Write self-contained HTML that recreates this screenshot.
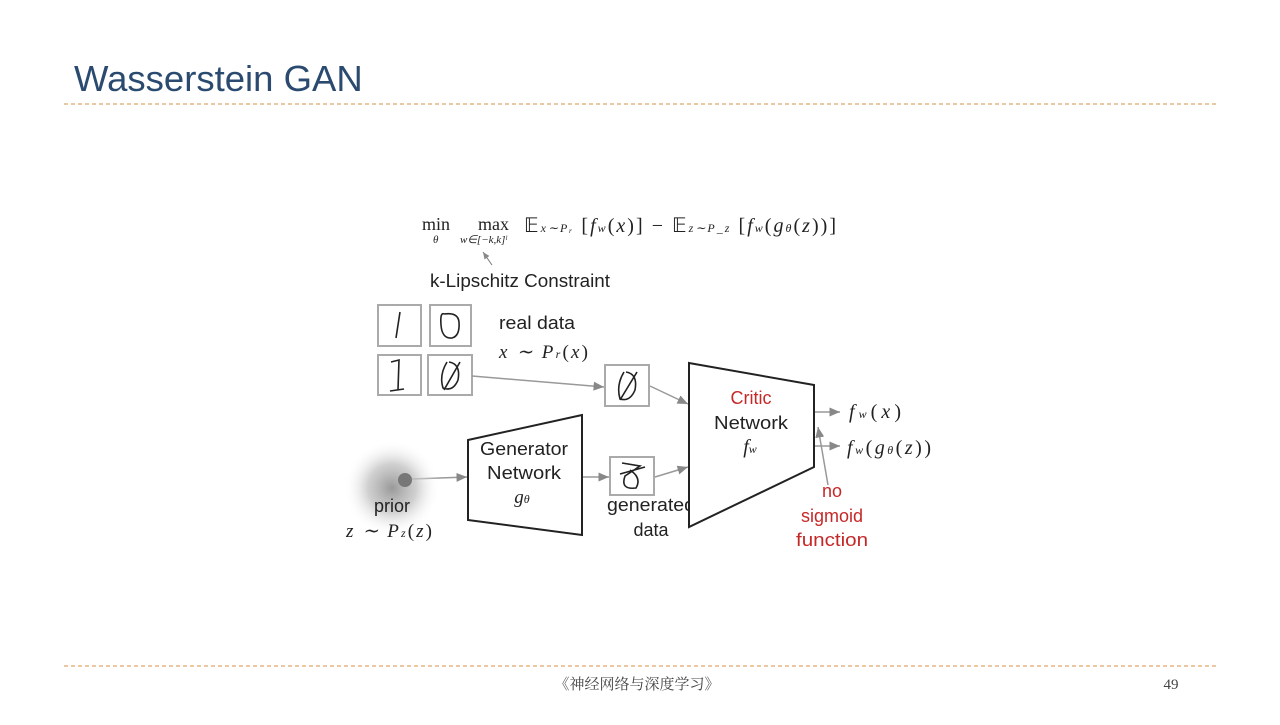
<!DOCTYPE html>
<html><head><meta charset="utf-8"><style>
body{margin:0;width:1280px;height:720px;background:#fff;overflow:hidden;font-family:"Liberation Sans",sans-serif}
</style></head><body>
<svg width="1280" height="720" xmlns="http://www.w3.org/2000/svg">
<defs>
<radialGradient id="g"><stop offset="0" stop-color="#999"/><stop offset="0.5" stop-color="#c4c4c4" stop-opacity="0.8"/><stop offset="1" stop-color="#fff" stop-opacity="0"/></radialGradient>
<marker id="a" markerWidth="8" markerHeight="8" refX="7" refY="4" orient="auto"><path d="M0,1 L7,4 L0,7z" fill="#888"/></marker>
</defs>
<text x="74" y="91" font-size="36.5" fill="#2b4a6f">Wasserstein GAN</text>
<line x1="64" y1="104" x2="1218" y2="104" stroke="#d98f4a" stroke-dasharray="4,3"/>
<line x1="64" y1="666" x2="1218" y2="666" stroke="#d98f4a" stroke-dasharray="4,3"/>
<text x="637" y="689" font-size="15" text-anchor="middle" fill="#444" font-family="Liberation Serif,'Noto Serif CJK SC',serif">《神经网络与深度学习》</text>
<text x="1171" y="689" font-size="15" text-anchor="middle" fill="#444" font-family="Liberation Serif,serif">49</text>
<g font-family="Liberation Serif,serif" fill="#222">
<text x="422" y="230" font-size="18">min</text>
<text x="433" y="243" font-size="11" font-style="italic">θ</text>
<text x="478" y="230" font-size="18">max</text>
<text x="460" y="243" font-size="11" font-style="italic">w∈[−k,k]ˡ</text>
<text x="524" y="232" font-size="20" textLength="312" lengthAdjust="spacing">𝔼<tspan font-size="12" font-style="italic">x∼Pᵣ</tspan> [<tspan font-style="italic">f<tspan font-size="12">w</tspan></tspan>(<tspan font-style="italic">x</tspan>)] − 𝔼<tspan font-size="12" font-style="italic">z∼P_z</tspan> [<tspan font-style="italic">f<tspan font-size="12">w</tspan></tspan>(<tspan font-style="italic">g<tspan font-size="12">θ</tspan></tspan>(<tspan font-style="italic">z</tspan>))]</text>
</g>
<line x1="492" y1="265" x2="483" y2="252" stroke="#777" marker-end="url(#a)"/>
<text x="430" y="287" font-size="18" fill="#222" textLength="180" lengthAdjust="spacingAndGlyphs">k-Lipschitz Constraint</text>
<g fill="none" stroke="#aaa" stroke-width="2">
<rect x="378" y="305" width="43" height="41"/><rect x="430" y="305" width="41" height="41"/>
<rect x="378" y="355" width="43" height="40"/><rect x="428" y="355" width="44" height="40"/>
<rect x="605" y="365" width="44" height="41"/><rect x="610" y="457" width="44" height="38"/>
</g>
<g fill="none" stroke="#222" stroke-width="1.6">
<path d="M400,312 L396,338"/><path d="M444,314 Q440,312 441,325 Q442,339 452,338 Q460,336 459,322 Q458,312 444,314"/>
<path d="M391,362 L399,360 L398,390 M390,391 L404,389"/><path d="M447,362 Q439,375 443,388 Q453,392 458,380 Q461,364 449,362 M444,390 L460,362"/>
<path d="M624,372 Q616,385 620,399 Q630,402 635,390 Q638,374 626,372 M620,400 L637,372"/>
<path d="M622,463 L640,466 L625,476 Q620,490 636,488 Q642,478 630,470 M620,474 L645,467"/>
</g>
<text x="499" y="329" font-size="18" fill="#222" textLength="76" lengthAdjust="spacingAndGlyphs">real data</text>
<text x="499" y="358" font-size="19" fill="#222" font-family="Liberation Serif,serif" font-style="italic" textLength="89" lengthAdjust="spacing">x ∼ P<tspan font-size="12">r</tspan><tspan font-style="normal">(</tspan>x<tspan font-style="normal">)</tspan></text>
<g stroke="#999" stroke-width="1.5" fill="none">
<line x1="472" y1="376" x2="604" y2="387" marker-end="url(#a)"/>
<line x1="650" y1="386" x2="688" y2="404" marker-end="url(#a)"/>
<line x1="412" y1="479" x2="467" y2="477" marker-end="url(#a)"/>
<line x1="583" y1="477" x2="609" y2="477" marker-end="url(#a)"/>
<line x1="655" y1="477" x2="688" y2="467" marker-end="url(#a)"/>
<line x1="815" y1="412" x2="840" y2="412" marker-end="url(#a)"/>
<line x1="815" y1="446" x2="840" y2="446" marker-end="url(#a)"/>
<line x1="828" y1="485" x2="818" y2="427" marker-end="url(#a)"/>
</g>
<circle cx="392" cy="488" r="48" fill="url(#g)"/>
<circle cx="405" cy="480" r="7" fill="#777"/>
<text x="392" y="512" font-size="18" text-anchor="middle" fill="#222">prior</text>
<text x="389" y="537" font-size="19" text-anchor="middle" fill="#222" font-family="Liberation Serif,serif" font-style="italic" textLength="86" lengthAdjust="spacing">z ∼ P<tspan font-size="12">z</tspan><tspan font-style="normal">(</tspan>z<tspan font-style="normal">)</tspan></text>
<polygon points="468,440 582,415 582,535 468,520" fill="#fff" stroke="#222" stroke-width="2"/>
<text x="524" y="455" font-size="18" text-anchor="middle" fill="#222" textLength="88" lengthAdjust="spacingAndGlyphs">Generator</text>
<text x="524" y="479" font-size="18" text-anchor="middle" fill="#222" textLength="74" lengthAdjust="spacingAndGlyphs">Network</text>
<text x="522" y="503" font-size="19" text-anchor="middle" fill="#222" font-family="Liberation Serif,serif" font-style="italic">g<tspan font-size="12">θ</tspan></text>
<text x="651" y="511" font-size="18" text-anchor="middle" fill="#222" textLength="88" lengthAdjust="spacingAndGlyphs">generated</text>
<text x="651" y="536" font-size="18" text-anchor="middle" fill="#222">data</text>
<polygon points="689,363 814,385 814,467 689,527" fill="#fff" stroke="#222" stroke-width="2"/>
<text x="751" y="404" font-size="18" text-anchor="middle" fill="#c62828">Critic</text>
<text x="751" y="429" font-size="18" text-anchor="middle" fill="#222" textLength="74" lengthAdjust="spacingAndGlyphs">Network</text>
<text x="750" y="453" font-size="20" text-anchor="middle" fill="#222" font-family="Liberation Serif,serif" font-style="italic">f<tspan font-size="12">w</tspan></text>
<text x="849" y="418" font-size="20" fill="#222" font-family="Liberation Serif,serif" font-style="italic" textLength="52" lengthAdjust="spacing">f<tspan font-size="12">w</tspan><tspan font-style="normal">(</tspan>x<tspan font-style="normal">)</tspan></text>
<text x="847" y="454" font-size="20" fill="#222" font-family="Liberation Serif,serif" font-style="italic" textLength="84" lengthAdjust="spacing">f<tspan font-size="12">w</tspan><tspan font-style="normal">(</tspan>g<tspan font-size="12">θ</tspan><tspan font-style="normal">(</tspan>z<tspan font-style="normal">))</tspan></text>
<text x="832" y="497" font-size="18" text-anchor="middle" fill="#c62828">no</text>
<text x="832" y="522" font-size="18" text-anchor="middle" fill="#c62828">sigmoid</text>
<text x="832" y="546" font-size="18" text-anchor="middle" fill="#c62828" textLength="72" lengthAdjust="spacingAndGlyphs">function</text>
</svg>
</body></html>
